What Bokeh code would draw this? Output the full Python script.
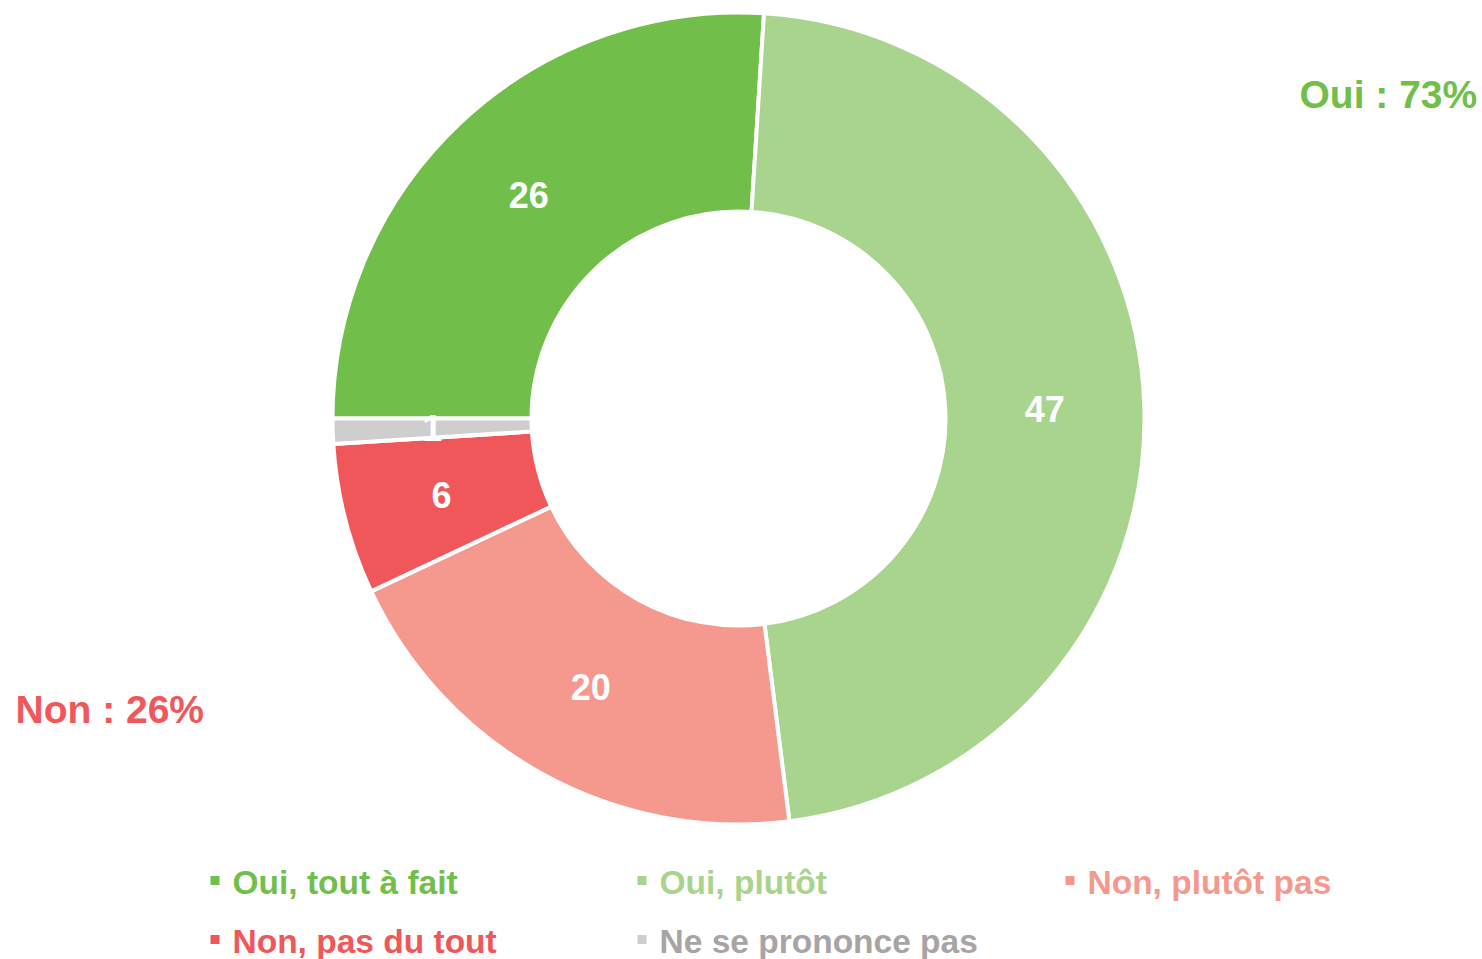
import math
from bokeh.plotting import figure
from bokeh.models import Range1d, ColumnDataSource
from bokeh.core.properties import value
from bokeh.embed import file_html
from bokeh.resources import INLINE

categories = ["Oui, tout à fait", "Oui, plutôt", "Non, plutôt pas", "Non, pas du tout", "Ne se prononce pas"]
values = [26, 47, 20, 6, 1]
labels = ["26", "47", "20", "6", "1"]
colors = ["#71BF4A", "#A9D48E", "#F5998E", "#F0575B", "#D0CDCE"]
legend_text_colors = ["#71BF4A", "#A9D48E", "#F5998E", "#F0575B", "#A8A4A5"]
group_labels = ["Oui : 73%", "Non : 26%"]
group_colors = ["#71BF4A", "#F0575B"]

W, H = 1482, 959
FONT = "Liberation Sans, Arial, sans-serif"

def sx(X):
    return X

def sy(Y):
    return H - Y

p = figure(width=W, height=H, output_backend="svg", toolbar_location=None,
           x_range=Range1d(0, W), y_range=Range1d(0, H), min_border=0)
p.axis.visible = False
p.grid.visible = False
p.outline_line_color = None
p.background_fill_color = "white"

cx, cy = sx(738), sy(418)
r_out, r_in = 406, 207
total = sum(values)

starts, ends, lx, ly = [], [], [], []
cum = 0
for v in values:
    a0 = math.pi - cum / total * 2 * math.pi
    cum += v
    a1 = math.pi - cum / total * 2 * math.pi
    starts.append(a1)
    ends.append(a0)
    mid = (a0 + a1) / 2
    rm = (r_out + r_in) / 2
    lx.append(cx + rm * math.cos(mid))
    ly.append(cy + rm * math.sin(mid))

src = ColumnDataSource(dict(start=starts, end=ends, color=colors, lx=lx, ly=ly, lab=labels))
p.annular_wedge(x=cx, y=cy, inner_radius=r_in, outer_radius=r_out,
                start_angle="start", end_angle="end", fill_color="color",
                line_color="white", line_width=4, source=src)

p.text(x="lx", y="ly", text="lab", source=src, text_color="white",
       text_font=value(FONT), text_font_style="bold", text_font_size="36px",
       text_align="center", text_baseline="middle")

# group totals
p.text(x=[sx(1299)], y=[sy(94)], text=[group_labels[0]], text_color=group_colors[0],
       text_font=value(FONT), text_font_style="bold", text_font_size="39px",
       text_align="left", text_baseline="middle")
p.text(x=[sx(15)], y=[sy(709)], text=[group_labels[1]], text_color=group_colors[1],
       text_font=value(FONT), text_font_style="bold", text_font_size="39px",
       text_align="left", text_baseline="middle")

# legend
col_x = [210, 637, 1065]
row_y = [882, 941]
mx, my, tx, ty = [], [], [], []
for i, c in enumerate(categories):
    r, k = divmod(i, 3)
    mx.append(sx(col_x[k] + 4.5))
    my.append(sy(row_y[r] - 2))
    tx.append(sx(col_x[k] + 22))
    ty.append(sy(row_y[r]))
lsrc = ColumnDataSource(dict(mx=mx, my=my, tx=tx, ty=ty, c=colors, tc=legend_text_colors, t=categories))
p.scatter(x="mx", y="my", marker="square", size=9, fill_color="c", line_color=None, source=lsrc)
p.text(x="tx", y="ty", text="t", text_color="tc", source=lsrc,
       text_font=value(FONT), text_font_style="bold", text_font_size="33.5px",
       text_align="left", text_baseline="middle")

open("out.html", "w").write(file_html(p, INLINE))
